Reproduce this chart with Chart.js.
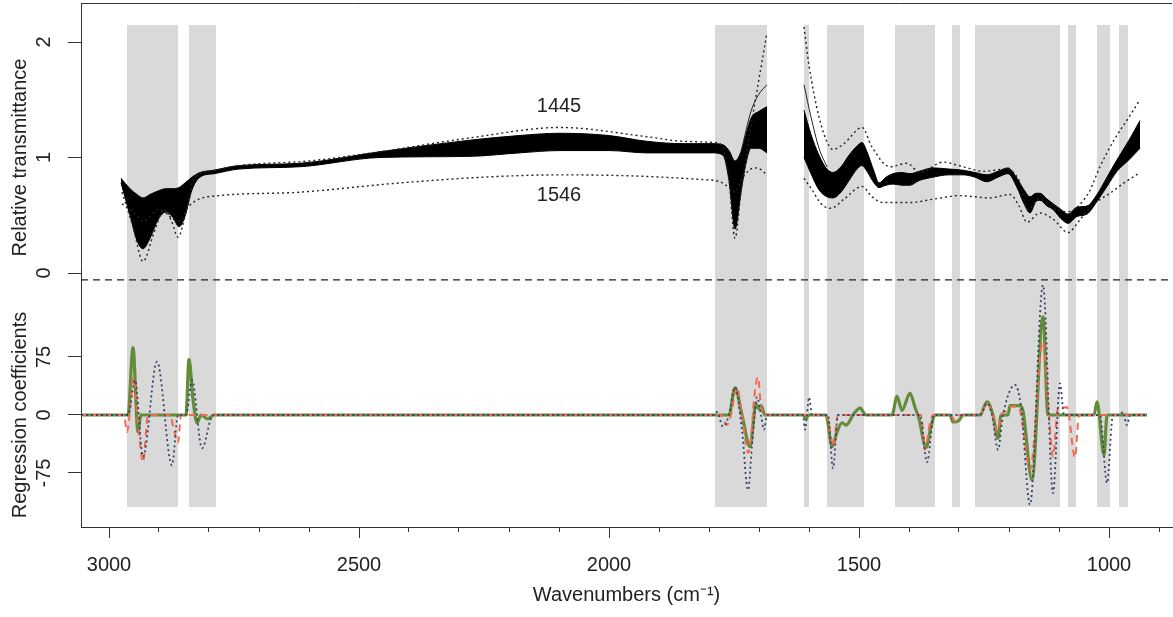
<!DOCTYPE html>
<html>
<head>
<meta charset="utf-8">
<script src="https://cdn.jsdelivr.net/npm/chart.js@4"></script>
<style>
  html, body { margin: 0; padding: 0; background: #fff; }
  #wrap { width: 1173px; height: 617px; }
</style>
</head>
<body>
<div id="wrap"><canvas id="spectra" width="1173" height="617"></canvas></div>
<script>
// wavenumber range of the plot (cm-1), drawn high -> low
const wnRange = [874, 3056];
const xMajorTicks = [1000, 1500, 2000, 2500, 3000];
const xMinorTicks = [900, 1000, 1100, 1200, 1300, 1400, 1500, 1600, 1700, 1800, 1900, 2000,
                     2100, 2200, 2300, 2400, 2500, 2600, 2700, 2800, 2900, 3000];
const transTicks = [0, 1, 2];
const coefTicks = [-75, 0, 75];

// selected windows (grey)
const bandFrom = [2964, 2840, 1788, 1610, 1564, 1428, 1314, 1268, 1082, 1024, 980];
const bandTo   = [2862, 2786, 1684, 1600, 1490, 1348, 1298, 1098, 1066,  998, 962];

// spread of all spectra: before the cut window
const envWnA   = [2976, 2958, 2944, 2932, 2918, 2902, 2886, 2872, 2860, 2848, 2834, 2818, 2790, 2740, 2618, 2458,
                  2278, 2180, 2098, 2000, 1924, 1850, 1792, 1772, 1760, 1748, 1736, 1726, 1716, 1700, 1684];
const envHighA = [0.82, 0.73, 0.68, 0.65, 0.68, 0.71, 0.73, 0.73, 0.74, 0.78, 0.83, 0.87, 0.89, 0.93, 0.95, 1.05,
                  1.15, 1.19, 1.21, 1.19, 1.14, 1.12, 1.12, 1.11, 1.06, 0.97, 1.05, 1.20, 1.34, 1.40, 1.44];
const envLowA  = [0.78, 0.50, 0.28, 0.21, 0.30, 0.46, 0.53, 0.48, 0.40, 0.49, 0.72, 0.83, 0.86, 0.90, 0.92, 1.00,
                  1.01, 1.04, 1.06, 1.06, 1.04, 1.04, 1.04, 1.02, 0.80, 0.38, 0.70, 0.95, 1.08, 1.08, 1.04];

// spread of all spectra: after the cut window
const envWnB   = [1610, 1596, 1580, 1564, 1552, 1536, 1520, 1504, 1494, 1484, 1470, 1460, 1446, 1432, 1414, 1398,
                  1380, 1352, 1320, 1292, 1268, 1244, 1222, 1202, 1184, 1170, 1158, 1146, 1138, 1124, 1112, 1096,
                  1082, 1064, 1044, 1024, 1004, 984, 960, 938];
const envHighB = [1.41, 1.20, 1.02, 0.90, 0.87, 0.92, 1.02, 1.10, 1.13, 1.05, 0.88, 0.78, 0.83, 0.86, 0.87, 0.86,
                  0.88, 0.91, 0.90, 0.89, 0.87, 0.85, 0.88, 0.91, 0.82, 0.72, 0.66, 0.69, 0.69, 0.64, 0.60, 0.55,
                  0.51, 0.57, 0.58, 0.68, 0.83, 0.98, 1.15, 1.32];
const envLowB  = [1.00, 0.86, 0.72, 0.66, 0.65, 0.70, 0.80, 0.90, 0.93, 0.88, 0.78, 0.74, 0.76, 0.77, 0.76, 0.76,
                  0.80, 0.83, 0.85, 0.85, 0.83, 0.79, 0.83, 0.86, 0.74, 0.60, 0.52, 0.62, 0.63, 0.58, 0.55, 0.47,
                  0.43, 0.49, 0.51, 0.62, 0.75, 0.88, 0.98, 1.08];

// a few single spectra that stick out of the bundle
const strayWnA = [1736, 1716, 1700, 1684];
const strayA   = [1.05, 1.40, 1.55, 1.63];
const strayWnB = [1610, 1596, 1580, 1564];
const strayB   = [1.63, 1.35, 1.08, 0.92];

// sample 1445
const s1445WnA = [2974, 2952, 2932, 2910, 2890, 2875, 2862, 2845, 2830, 2800, 2740, 2600, 2458, 2278, 2098, 1924,
                  1850, 1788, 1774, 1760, 1748, 1736, 1724, 1704, 1684];
const s1445A   = [0.70, 0.40, 0.10, 0.35, 0.55, 0.45, 0.31, 0.55, 0.82, 0.88, 0.93, 0.97, 1.05, 1.17, 1.26, 1.18,
                  1.14, 1.13, 1.10, 0.80, 0.30, 0.70, 1.06, 1.58, 2.08];
const s1445WnB = [1610, 1600, 1580, 1560, 1552, 1530, 1494, 1474, 1438, 1404, 1378, 1332, 1292, 1250, 1206, 1180,
                  1162, 1140, 1110, 1082, 1064, 1040, 1018, 990, 960, 938];
const s1445B   = [2.13, 1.80, 1.35, 1.10, 1.07, 1.12, 1.26, 1.09, 0.92, 0.95, 0.87, 0.96, 0.92, 0.88, 0.90, 0.80,
                  0.55, 0.64, 0.56, 0.53, 0.57, 0.70, 0.92, 1.15, 1.35, 1.50];

// sample 1546
const s1546WnA = [2974, 2950, 2932, 2900, 2862, 2840, 2820, 2780, 2618, 2418, 2250, 2098, 1950, 1818, 1778, 1760,
                  1748, 1736, 1720, 1704, 1684];
const s1546A   = [0.60, 0.52, 0.45, 0.55, 0.45, 0.58, 0.64, 0.67, 0.70, 0.78, 0.83, 0.85, 0.84, 0.81, 0.79, 0.74,
                  0.70, 0.80, 0.89, 0.91, 0.85];
const s1546WnB = [1610, 1594, 1576, 1556, 1530, 1494, 1474, 1452, 1400, 1350, 1300, 1238, 1198, 1180, 1164, 1138,
                  1110, 1082, 1060, 1040, 1020, 998, 970, 938];
const s1546B   = [0.82, 0.72, 0.60, 0.56, 0.64, 0.75, 0.66, 0.61, 0.61, 0.64, 0.67, 0.65, 0.68, 0.58, 0.44, 0.52,
                  0.46, 0.35, 0.45, 0.56, 0.63, 0.69, 0.78, 0.87];

const sampleNames = ['1445', '1546'];
const sampleLabelWn = [2100, 2100];
const sampleLabelT = [1.44, 0.675];

// regression coefficients, three models
const greenWn   = [3056, 2962, 2952, 2942, 2936, 2846, 2840, 2832, 2824, 2816, 2802, 2790, 1760, 1748, 1734, 1718,
                   1706, 1700, 1696, 1688, 1612, 1606, 1600, 1566, 1554, 1544, 1534, 1526, 1510, 1498, 1486, 1434,
                   1424, 1414, 1398, 1388, 1380, 1366, 1356, 1348, 1318, 1312, 1300, 1292, 1258, 1244, 1232, 1222,
                   1216, 1202, 1198, 1178, 1172, 1154, 1132, 1122, 1030, 1024, 1010, 1004, 924];
const greenCoef = [0, 0, 87, -22, 0, 0, 72, 20, -10, 0, -5, 0, 0, 35, 0, -41,
                   14, 8, 12, 0, 0, -4, 0, 0, -41, -22, -10, -13, 2, 9, 0, 0,
                   24, 6, 28, 10, -5, -42, -15, 0, 0, -9, -7, 0, 0, 17, 0, -30,
                   0, 0, 12, 12, 5, -84, 127, 0, 0, 17, -52, 0, 0];

const redWn   = [3056, 2970, 2964, 2958, 2952, 2942, 2932, 2922, 2878, 2870, 2862, 2856, 1776, 1764, 1756, 1744,
                 1734, 1722, 1716, 1710, 1702, 1696, 1690, 1566, 1558, 1552, 1542, 1376, 1368, 1358, 1352, 1316,
                 1308, 1298, 1258, 1244, 1232, 1224, 1216, 1206, 1196, 1182, 1176, 1158, 1132, 1120, 1112, 1102,
                 1084, 1068, 1060, 924];
const redCoef = [0, 0, -22, 5, 49, -10, -61, 0, 0, -20, -36, 0, 0, -13, 0, 36,
                 0, -49, -30, 20, 49, 10, 0, 0, -20, -41, 0, 0, -45, -10, 0, 0,
                 -8, 0, 0, 15, 0, -22, 0, 5, 11, 11, 0, -71, 95, 0, -54, 9,
                 10, -55, 0, 0];

const blueWn   = [3056, 2962, 2948, 2932, 2904, 2874, 2862, 2846, 2834, 2814, 2792, 1790, 1784, 1772, 1760, 1748,
                  1734, 1722, 1714, 1704, 1696, 1690, 1684, 1612, 1608, 1604, 1600, 1594, 1562, 1552, 1542, 1378,
                  1364, 1350, 1258, 1244, 1234, 1222, 1212, 1188, 1176, 1158, 1132, 1112, 1098, 1090, 1018, 1004,
                  992, 978, 972, 964, 958, 924];
const blueCoef = [0, 0, 45, -54, 69, -65, 0, 0, 45, -43, 0, 0, 4, -15, 0, 36,
                  -20, -97, -40, 23, 0, -19, 0, 0, -19, 0, 23, 0, 0, -69, 0, 0,
                  -61, 0, 0, 15, 0, -45, 0, 39, 11, -116, 168, -101, 41, 0, 0, -88,
                  0, 0, 4, -13, 0, 0];

const transTitle = 'Relative transmittance';
const coefTitle = 'Regression coefficients';

// ---- layout ----
const FONT = "'Liberation Sans', Arial, Helvetica, sans-serif";
const T_MIN = -2.1991, T_MAX = 2.3377;   // transmittance scale, full height
const R_MIN = -144.83, R_MAX = 532.76;   // coefficient scale, full height
const BAND_TOP = 2.147, BAND_BOTTOM = -2.026;
const SEP_LEVEL = -0.06;
const INK = '#333';

Chart.defaults.font.family = FONT;
Chart.defaults.font.size = 20;
Chart.defaults.color = '#222';

const pts = (xs, ys) => xs.map((x, i) => ({ x: x, y: ys[i] }));

// both panels share one left axis: coefficient ticks are placed on the transmittance scale
const coefToTrans = c => T_MIN + (c - R_MIN) / (R_MAX - R_MIN) * (T_MAX - T_MIN);
const leftTickValues = transTicks.concat(coefTicks.map(coefToTrans));
const leftTickLabels = transTicks.map(String).concat(coefTicks.map(String));

const datasets = [];

bandFrom.forEach((from, i) => {
  datasets.push({
    data: [{ x: from, y: BAND_TOP }, { x: bandTo[i], y: BAND_TOP }],
    yAxisID: 'yT', borderWidth: 0, backgroundColor: '#d9d9d9',
    fill: { value: BAND_BOTTOM }, order: 20
  });
});

datasets.push({
  data: [{ x: wnRange[1], y: SEP_LEVEL }, { x: wnRange[0], y: SEP_LEVEL }],
  yAxisID: 'yT', borderColor: '#222', borderWidth: 1.2, borderDash: [7, 5], fill: false, order: 15
});

function addEnvelope(wn, high, low) {
  datasets.push({
    data: pts(wn, low), yAxisID: 'yT', borderColor: '#000', borderWidth: 1,
    fill: false, cubicInterpolationMode: 'monotone', order: 10
  });
  datasets.push({
    data: pts(wn, high), yAxisID: 'yT', borderColor: '#000', borderWidth: 1,
    backgroundColor: '#000', fill: '-1', cubicInterpolationMode: 'monotone', order: 10
  });
}
addEnvelope(envWnA, envHighA, envLowA);
addEnvelope(envWnB, envHighB, envLowB);

[[strayWnA, strayA], [strayWnB, strayB]].forEach(([wn, v]) => {
  datasets.push({
    data: pts(wn, v), yAxisID: 'yT', borderColor: '#222', borderWidth: 1,
    fill: false, cubicInterpolationMode: 'monotone', order: 9
  });
});

[[s1445WnA, s1445A], [s1445WnB, s1445B], [s1546WnA, s1546A], [s1546WnB, s1546B]].forEach(([wn, v]) => {
  datasets.push({
    data: pts(wn, v), yAxisID: 'yT', borderColor: '#222', borderWidth: 1.4, borderDash: [2, 3],
    fill: false, cubicInterpolationMode: 'monotone', order: 8
  });
});

datasets.push({
  data: pts(greenWn, greenCoef), yAxisID: 'yR', borderColor: '#628c38', borderWidth: 3.2,
  fill: false, cubicInterpolationMode: 'monotone', order: 3
});
datasets.push({
  data: pts(redWn, redCoef), yAxisID: 'yR', borderColor: '#f46a4e', borderWidth: 2, borderDash: [7, 5],
  fill: false, cubicInterpolationMode: 'monotone', order: 2
});
datasets.push({
  data: pts(blueWn, blueCoef), yAxisID: 'yR', borderColor: '#33456a', borderWidth: 1.8, borderDash: [2, 3],
  fill: false, cubicInterpolationMode: 'monotone', order: 1
});

// top frame line, the two y titles and the sample names
const decorations = {
  id: 'decorations',
  afterDraw(chart) {
    const { ctx, chartArea, scales } = chart;
    ctx.save();
    ctx.strokeStyle = INK;
    ctx.lineWidth = 1;
    ctx.beginPath();
    ctx.moveTo(chartArea.left, chartArea.top + 0.5);
    ctx.lineTo(chartArea.right, chartArea.top + 0.5);
    ctx.stroke();

    ctx.fillStyle = '#222';
    ctx.font = '20px ' + FONT;
    ctx.textAlign = 'center';
    ctx.textBaseline = 'middle';
    [[transTitle, scales.yT.getPixelForValue(1)], [coefTitle, scales.yR.getPixelForValue(0)]].forEach(([t, y]) => {
      ctx.save();
      ctx.translate(20, y);
      ctx.rotate(-Math.PI / 2);
      ctx.fillText(t, 0, 0);
      ctx.restore();
    });
    sampleNames.forEach((name, i) => {
      ctx.fillText(name, scales.x.getPixelForValue(sampleLabelWn[i]), scales.yT.getPixelForValue(sampleLabelT[i]));
    });
    ctx.restore();
  }
};

const noPad = s => { s.paddingTop = 0; s.paddingBottom = 0; s.paddingLeft = 0; s.paddingRight = 0; };

new Chart(document.getElementById('spectra'), {
  type: 'line',
  data: { datasets: datasets },
  options: {
    responsive: false,
    animation: false,
    devicePixelRatio: 1,
    events: [],
    layout: { padding: { top: 3, right: 1, left: 0, bottom: 0 } },
    elements: { point: { radius: 0 }, line: { tension: 0 } },
    plugins: { legend: { display: false }, tooltip: { enabled: false } },
    scales: {
      x: {
        type: 'linear', reverse: true, min: wnRange[0], max: wnRange[1], position: 'bottom', weight: 1,
        afterBuildTicks: s => { s.ticks = xMajorTicks.map(v => ({ value: v })); },
        afterFit: s => { s.height = 90; noPad(s); },
        ticks: { autoSkip: false, maxRotation: 0, padding: 15, color: '#222', callback: v => String(v) },
        grid: { drawOnChartArea: false, drawTicks: true, tickLength: 11, tickColor: INK },
        border: { display: true, color: INK, width: 1 },
        title: { display: true, text: 'Wavenumbers (cm⁻¹)', padding: { top: 0, bottom: 10 }, color: '#222' }
      },
      xMinor: {
        type: 'linear', reverse: true, min: wnRange[0], max: wnRange[1], position: 'bottom', weight: 0,
        afterBuildTicks: s => { s.ticks = xMinorTicks.map(v => ({ value: v })); },
        afterFit: s => { s.height = 0; noPad(s); },
        ticks: { display: false, autoSkip: false },
        grid: { drawOnChartArea: false, drawTicks: true, tickLength: 5, tickColor: INK },
        border: { display: false }
      },
      yT: {
        position: 'left', min: T_MIN, max: T_MAX,
        afterBuildTicks: s => { s.ticks = leftTickValues.map(v => ({ value: v })); },
        afterFit: s => { s.width = 81; noPad(s); },
        ticks: {
          autoSkip: false, minRotation: 90, maxRotation: 90, crossAlign: 'center', padding: 9.5, color: '#222',
          callback: (v, i) => leftTickLabels[i]
        },
        grid: { drawOnChartArea: false, drawTicks: true, tickLength: 13, tickColor: INK },
        border: { display: true, color: INK, width: 1 }
      },
      yR: { display: false, min: R_MIN, max: R_MAX }
    }
  },
  plugins: [decorations]
});
</script>
</body>
</html>
